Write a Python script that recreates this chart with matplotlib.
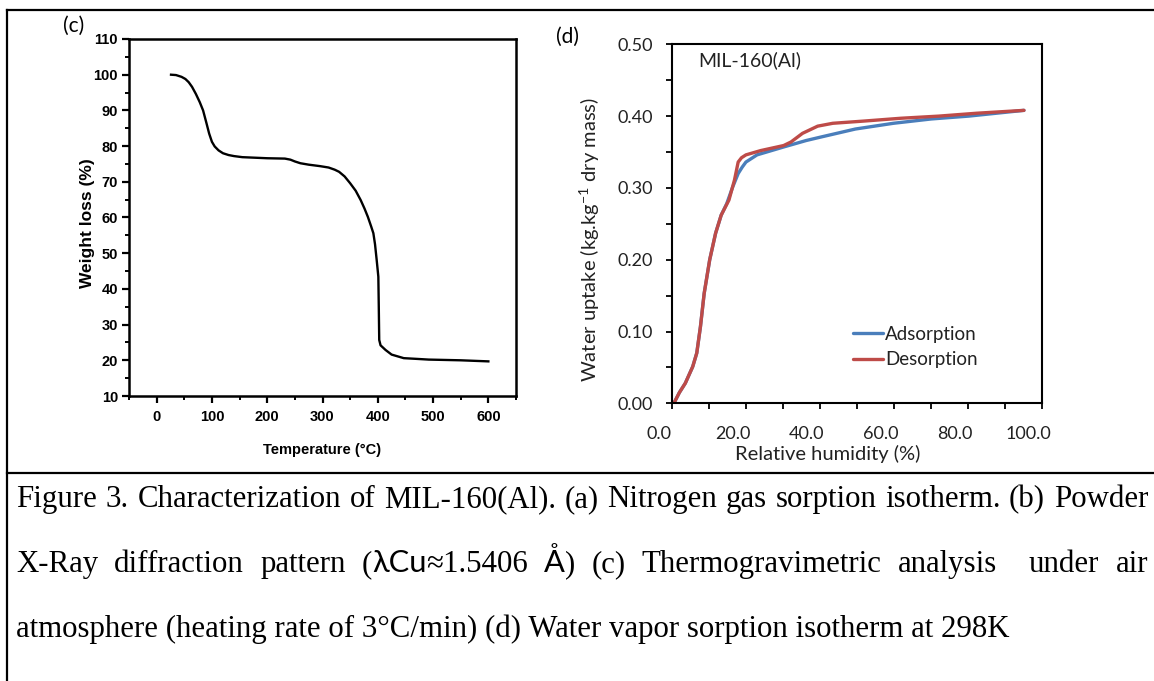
import matplotlib
matplotlib.use("Agg")
import matplotlib.pyplot as plt
from matplotlib.ticker import MultipleLocator, FuncFormatter
from matplotlib.transforms import ScaledTranslation
from matplotlib import font_manager
from matplotlib.lines import Line2D

# ---------------- data ----------------
tga_temp = [26, 35, 45, 52, 58, 64, 71, 78, 84, 90, 95, 100, 105, 112, 120, 130, 140,
            155, 200, 232, 242, 250, 260, 275, 295, 311, 322, 330, 340, 350, 360, 369,
            376, 382, 388, 392, 395, 398, 400, 401, 401.8, 402.6, 405, 414, 425, 447,
            470, 492, 550, 600]
tga_weight = [100, 99.9, 99.4, 98.8, 97.9, 96.6, 94.6, 92.3, 90.0, 86.5, 83.5, 81.2,
              79.9, 78.8, 78.0, 77.5, 77.2, 76.9, 76.6, 76.5, 76.2, 75.7, 75.2, 74.8,
              74.4, 74.0, 73.4, 72.8, 71.5, 69.6, 67.5, 64.9, 62.5, 60.2, 57.5, 55.6,
              52.5, 48.1, 45, 43.4, 35, 25.7, 24.2, 22.9, 21.6, 20.6, 20.4, 20.2, 20.0,
              19.7]

ads_rh = [0.5, 2.0, 3.6, 5.6, 6.7, 7.7, 8.7, 10.2, 11.8, 13.3, 14.8, 16.4, 17.9,
          19.0, 20.0, 21.5, 23.0, 30.2, 36.3, 40.4, 49.6, 59.9, 70.1, 80.3, 95.2]
ads_uptake = [0.0, 0.015, 0.028, 0.051, 0.07, 0.107, 0.153, 0.2, 0.237, 0.262,
              0.278, 0.301, 0.32, 0.329, 0.336, 0.341, 0.346, 0.357, 0.366, 0.371,
              0.382, 0.390, 0.396, 0.400, 0.408]
des_rh = [0.5, 2.0, 3.6, 5.6, 6.7, 7.7, 8.7, 10.2, 11.8, 13.3, 15.4, 16.9, 17.9,
          18.8, 20.0, 24.0, 30.2, 32.2, 35.3, 39.4, 43.5, 51.7, 61.9, 72.2, 82.4, 95.2]
des_uptake = [0.0, 0.015, 0.028, 0.051, 0.07, 0.107, 0.153, 0.2, 0.237, 0.262,
              0.283, 0.311, 0.336, 0.342, 0.346, 0.352, 0.359, 0.364, 0.376, 0.386,
              0.39, 0.393, 0.397, 0.400, 0.404, 0.408]

series_names = ["Adsorption", "Desorption"]
sample_name = "MIL-160(Al)"

caption_line1 = [[("Figure", "s")], [("3.", "s")], [("Characterization", "s")], [("of", "s")],
                 [("MIL-160(Al).", "s")], [("(a)", "s")], [("Nitrogen", "s")], [("gas", "s")],
                 [("sorption", "s")], [("isotherm.", "s")], [("(b)", "s")], [("Powder", "s")]]
caption_line2 = [[("X-Ray", "s")], [("diffraction", "s")], [("pattern", "s")],
                 [("(", "s"), ("λCu", "a"), ("≈1.5406", "s")], [("Å", "a"), (")", "s")],
                 [("(c)", "s")], [("Thermogravimetric", "s")], [("analysis", "s")], None,
                 [("under", "s")], [("air", "s")]]
caption_line3 = "atmosphere (heating rate of 3°C/min) (d) Water vapor sorption isotherm at 298K"

# ---------------- fonts ----------------
avail = {f.name for f in font_manager.fontManager.ttflist}
narrow = "Liberation Sans Narrow" if "Liberation Sans Narrow" in avail else None
if narrow:
    c_font = dict(family=[narrow, "Liberation Sans"], fontweight="bold", fontsize=12)
else:
    c_font = dict(family=["Liberation Sans"], fontweight="bold", fontsize=10.5)
calib = ["Lato", "DejaVu Sans"]
serif = ["Liberation Serif", "DejaVu Serif"]

plt.rcParams["mathtext.fontset"] = "custom"
plt.rcParams["mathtext.rm"] = "Lato"
plt.rcParams["mathtext.it"] = "Lato:italic"

W, H = 1154, 681
fig = plt.figure(figsize=(W / 100, H / 100), dpi=100)

def fx(px):
    return px / W

def fy(py):
    return 1 - py / H

# ---------------- frame lines ----------------
fig.add_artist(Line2D([fx(7), fx(1154)], [fy(10), fy(10)], color="black", lw=1.6))
fig.add_artist(Line2D([fx(7), fx(7)], [fy(10), fy(681)], color="black", lw=1.6))
fig.add_artist(Line2D([fx(7), fx(1154)], [fy(473), fy(473)], color="black", lw=1.6))

# ---------------- panel (c) ----------------
axc = fig.add_axes([fx(129), fy(396), (516 - 129) / W, (396 - 39) / H])
axc.plot(tga_temp, tga_weight, color="black", lw=1.7)
axc.set_xlim(-50, 650)
axc.set_ylim(10, 110)
axc.xaxis.set_major_locator(MultipleLocator(100))
axc.xaxis.set_minor_locator(MultipleLocator(50))
axc.yaxis.set_major_locator(MultipleLocator(10))
axc.yaxis.set_minor_locator(MultipleLocator(5))
axc.tick_params(which="major", direction="out", length=5, width=1.6, pad=3)
axc.tick_params(which="minor", direction="out", length=3, width=1.4)
axc.tick_params(axis="x", which="major", length=5, pad=5)
for sp in axc.spines.values():
    sp.set_linewidth(1.8)
for lab in axc.get_xticklabels() + axc.get_yticklabels():
    lab.set_fontfamily(c_font["family"])
    lab.set_fontweight("bold")
    lab.set_fontsize(c_font["fontsize"])
axc.set_xlabel("Temperature (°C)", labelpad=14, **c_font)
axc.set_ylabel("Weight loss (%)", family=["Liberation Sans"], fontweight="bold",
               fontsize=12.5)
axc.yaxis.set_label_coords(-0.088, 0.483)
fig.text(fx(63), fy(26), "(c)", family=calib, fontsize=15, va="center", ha="left")

# ---------------- panel (d) ----------------
axd = fig.add_axes([fx(672), fy(403.3), (1041.7 - 672) / W, (403.3 - 44.3) / H])
blue = "#4A7EBB"
red = "#BE4B48"
axd.plot(ads_rh, ads_uptake, color=blue, lw=2.4, label=series_names[0], solid_capstyle="round")
axd.plot(des_rh, des_uptake, color=red, lw=2.4, label=series_names[1], solid_capstyle="round")
axd.set_xlim(0, 100)
axd.set_ylim(0, 0.5)
axd.xaxis.set_major_locator(MultipleLocator(10))
axd.xaxis.set_major_formatter(FuncFormatter(lambda v, p: f"{v:.1f}" if round(v) % 20 == 0 else ""))
axd.yaxis.set_major_locator(MultipleLocator(0.1))
axd.yaxis.set_minor_locator(MultipleLocator(0.05))
axd.yaxis.set_major_formatter(FuncFormatter(lambda v, p: f"{v:.2f}"))
axd.tick_params(which="both", direction="out", length=4, width=1.3, labelsize=13,
                colors="black", labelcolor="#222222")
axd.tick_params(axis="y", which="major", pad=10)
axd.tick_params(axis="x", which="major", pad=12)
for sp in axd.spines.values():
    sp.set_linewidth(1.5)
for lab in axd.get_xticklabels() + axd.get_yticklabels():
    lab.set_fontfamily(calib)
off = ScaledTranslation(-13 / 100, 0, fig.dpi_scale_trans)
for lab in axd.get_xticklabels():
    lab.set_transform(lab.get_transform() + off)
axd.set_xlabel("Relative humidity (%)", family=calib, fontsize=14.5, color="#222222")
axd.xaxis.set_label_coords(0.4216, -0.117)
axd.set_ylabel(r"Water uptake (kg.kg$^{\mathregular{-1}}$ dry mass)", family=calib,
               fontsize=14.5, color="#222222")
axd.yaxis.set_label_coords(-0.19, 0.455)
axd.text(0.07, 0.955, sample_name, transform=axd.transAxes, family=calib, fontsize=14,
         va="center", ha="left", color="#222222")
leg = axd.legend(loc="upper left", bbox_to_anchor=(0.49, 0.216), frameon=False,
                 prop=dict(family=calib, size=13.5), handlelength=1.6, handletextpad=0.12,
                 labelspacing=0.45, borderaxespad=0, borderpad=0)
for t in leg.get_texts():
    t.set_color("#222222")
fig.text(fx(556), fy(37), "(d)", family=calib, fontsize=15, va="center", ha="left")

# ---------------- caption ----------------
renderer = fig.canvas.get_renderer()
fam = {"s": serif, "a": calib}

probe = fig.text(0, 0, caption_line3, family=serif, fontsize=20)
w3 = probe.get_window_extent(renderer).width
probe.remove()
cap_fs = 20 * 994 / w3

def justified(words, baseline, x0=16, x1=1148):
    widths = []
    for w in words:
        if w is None:
            continue
        total = 0
        for seg, f in w:
            t = fig.text(0, 0, seg, family=fam[f], fontsize=cap_fs)
            total += t.get_window_extent(renderer).width
            t.remove()
        widths.append(total)
    gap = (x1 - x0 - sum(widths)) / (len(words) - 1)
    x = x0
    for w in words:
        if w is None:
            x += gap
            continue
        for seg, f in w:
            t = fig.text(fx(x), fy(baseline), seg, family=fam[f], fontsize=cap_fs,
                         va="baseline", ha="left")
            x += t.get_window_extent(renderer).width
        x += gap

justified(caption_line1, 507)
justified(caption_line2, 572)
fig.text(fx(16), fy(637), caption_line3, family=serif, fontsize=cap_fs, va="baseline", ha="left")

fig.savefig("out.png", dpi=100)
